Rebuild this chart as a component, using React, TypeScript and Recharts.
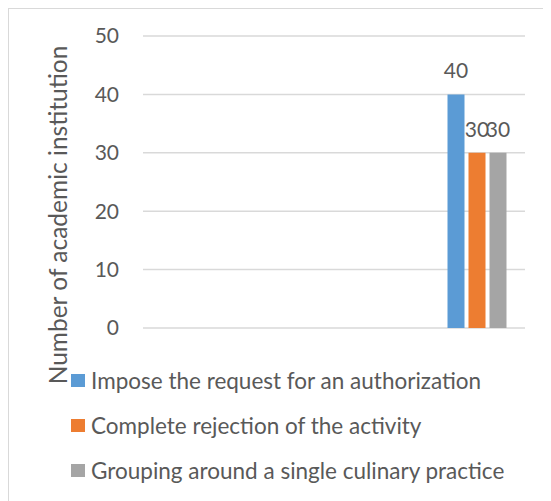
import { Bar, BarChart, CartesianGrid, Label, LabelList, Legend, XAxis, YAxis } from "recharts";

const categories = ["", "", "", ""];
const imposeRequest = [null, null, null, 40];
const completeRejection = [null, null, null, 30];
const groupingPractice = [null, null, null, 30];
const yTicks = [0, 10, 20, 30, 40, 50];

const SERIES = [
  { key: "impose", name: "Impose the request for an authorization", color: "#5B9BD5" },
  { key: "reject", name: "Complete rejection of the activity", color: "#ED7D31" },
  { key: "group", name: "Grouping around a single culinary practice", color: "#A5A5A5" },
];

const data = categories.map((name, i) => ({
  name,
  impose: imposeRequest[i],
  reject: completeRejection[i],
  group: groupingPractice[i],
}));

const TEXT = "#595959";
const FONT = "Lato, 'Open Sans', sans-serif";

// keep legend rows in series order (recharts sorts by name otherwise)
function LegendBox({ payload }: any) {
  const items = [...(payload || [])].sort(
    (a: any, b: any) =>
      SERIES.findIndex((s) => s.name === a.value) - SERIES.findIndex((s) => s.name === b.value)
  );
  return (
    <div style={{ fontFamily: FONT, fontSize: 22.5, color: TEXT }}>
      {items.map((p: any) => (
        <div key={p.value} style={{ display: "flex", alignItems: "center", height: 45 }}>
          <span style={{ width: 14, height: 13, background: p.color, marginRight: 6, flexShrink: 0 }} />
          <span style={{ whiteSpace: "nowrap" }}>{p.value}</span>
        </div>
      ))}
    </div>
  );
}

function YTitle({ viewBox }: any) {
  const cx = viewBox.x + 48;
  const cy = viewBox.y + viewBox.height / 2 + 33;
  return (
    <text
      x={cx}
      y={cy}
      transform={`rotate(-90 ${cx} ${cy})`}
      textAnchor="middle"
      dominantBaseline="central"
      fill={TEXT}
      fontSize={24.5}
      fontFamily={FONT}
    >
      Number of academic institution
    </text>
  );
}

export default function App() {
  return (
    <div
      style={{
        width: 542,
        height: 492,
        borderLeft: "1px solid #D9D9D9",
        borderTop: "1px solid #D9D9D9",
        background: "#fff",
        overflow: "hidden",
        position: "relative",
      }}
    >
      <BarChart
        width={542}
        height={492}
        data={data}
        margin={{ top: 27, right: 26, left: 0, bottom: 173 }}
        barSize={17}
        barGap={4}
        style={{ fontFamily: FONT }}
      >
        <CartesianGrid vertical={false} stroke="#D9D9D9" strokeWidth={1.5} />
        <XAxis hide />
        <YAxis
          width={134}
          domain={[0, 50]}
          ticks={yTicks}
          axisLine={false}
          tickLine={false}
          tickSize={0}
          tickMargin={24}
          tick={{ fill: TEXT, fontSize: 21, fontFamily: FONT }}
        >
          <Label content={<YTitle />} />
        </YAxis>
        <Legend
          layout="vertical"
          align="center"
          verticalAlign="middle"
          content={<LegendBox />}
          wrapperStyle={{ left: 62, top: 349, width: 480 }}
        />
        {SERIES.map((s) => (
          <Bar key={s.key} dataKey={s.key} name={s.name} fill={s.color} isAnimationActive={false}>
            <LabelList dataKey={s.key} position="top" offset={16} fill={TEXT} fontSize={21} fontFamily={FONT} />
          </Bar>
        ))}
      </BarChart>
    </div>
  );
}
